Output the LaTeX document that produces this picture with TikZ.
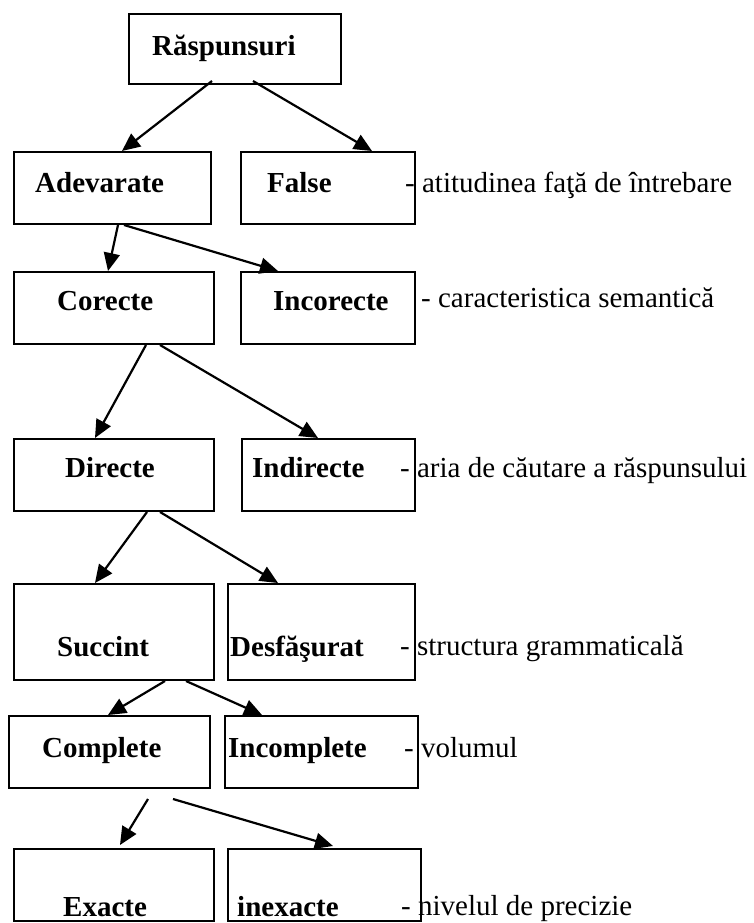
\documentclass[tikz,border=0pt]{standalone}
\usepackage{fontspec}
\setmainfont{Liberation Serif}
\usetikzlibrary{arrows.meta}

\begin{document}
\begin{tikzpicture}[
      x=1pt, y=-1pt,
      box/.style={draw=black, line width=2pt, anchor=north west, inner sep=0pt},
      title/.style={font=\fontsize{29}{34}\selectfont\bfseries, anchor=base west, inner sep=0pt},
      note/.style={font=\fontsize{29}{34}\selectfont, anchor=base west, inner sep=0pt},
      link/.style={-{Triangle[length=18pt, width=16pt]}, line width=2.2pt},
    ]
    \useasboundingbox (0,0) rectangle (753,923);

    % Root
    \node[box, minimum width=212pt, minimum height=70pt] (rasp) at (128,13) {};
    \node[title] (tRasp) at (152,56) {Răspunsuri};

    % Level 1
    \node[box, minimum width=197pt, minimum height=72pt] (adev) at (13,151) {};
    \node[title] (tAdev) at (35,192) {Adevarate};
    \node[box, minimum width=174pt, minimum height=72pt] (fals) at (240,151) {};
    \node[title] (tFals) at (267,192) {False};
    \node[note] (nFals) at (405,192) {- atitudinea faţă de întrebare};

    % Level 2
    \node[box, minimum width=200pt, minimum height=72pt] (corect) at (13,271) {};
    \node[title] (tCorect) at (57,310) {Corecte};
    \node[box, minimum width=174pt, minimum height=72pt] (incorect) at (240,271) {};
    \node[title] (tIncorect) at (273,310) {Incorecte};
    \node[note] (nIncorect) at (421,307) {- caracteristica semantică};

    % Level 3
    \node[box, minimum width=200pt, minimum height=72pt] (direct) at (13,438) {};
    \node[title] (tDirect) at (65,477) {Directe};
    \node[box, minimum width=173pt, minimum height=72pt] (indirect) at (241,438) {};
    \node[title] (tIndirect) at (252,477) {Indirecte};
    \node[note] (nIndirect) at (400,477) {- aria de căutare a răspunsului};

    % Level 4
    \node[box, minimum width=200pt, minimum height=96pt] (succint) at (13,583) {};
    \node[title] (tSuccint) at (57,656) {Succint};
    \node[box, minimum width=187pt, minimum height=96pt] (desfas) at (227,583) {};
    \node[title] (tDesfas) at (230,656) {Desfăşurat};
    \node[note] (nDesfas) at (400,655) {- structura grammaticală};

    % Level 5
    \node[box, minimum width=201pt, minimum height=72pt] (complet) at (8,715) {};
    \node[title] (tComplet) at (42,757) {Complete};
    \node[box, minimum width=193pt, minimum height=72pt] (incomplet) at (224,715) {};
    \node[title] (tIncomplet) at (228,757) {Incomplete};
    \node[note] (nIncomplet) at (404,757) {- volumul};

    % Level 6 (text sits on the bottom edge)
    \node[box, minimum width=200pt, minimum height=72pt] (exact) at (13,848) {};
    \node[title, text depth=0pt] (tExact) at (63,916) {Exacte};
    \node[box, minimum width=193pt, minimum height=72pt] (inexact) at (227,848) {};
    \node[title, text depth=0pt] (tInexact) at (237,916) {inexacte};
    \node[note, text depth=0pt] (nInexact) at (401,915) {- nivelul de precizie};

    % Connections
    \draw[link] ([shift={(84,-4)}]rasp.south west) -- ([shift={(109,0)}]adev.north west);
    \draw[link] ([shift={(125,-4)}]rasp.south west) -- ([shift={(132,0)}]fals.north west);
    \draw[link] ([shift={(105,0)}]adev.south west) -- ([shift={(95,0)}]corect.north west);
    \draw[link] ([shift={(111,0)}]adev.south west) -- ([shift={(38,0)}]incorect.north west);
    \draw[link] ([shift={(133,0)}]corect.south west) -- ([shift={(82,0)}]direct.north west);
    \draw[link] ([shift={(147,0)}]corect.south west) -- ([shift={(77,0)}]indirect.north west);
    \draw[link] ([shift={(134,0)}]direct.south west) -- ([shift={(82,0)}]succint.north west);
    \draw[link] ([shift={(147,0)}]direct.south west) -- ([shift={(51,0)}]desfas.north west);
    \draw[link] ([shift={(152,0)}]succint.south west) -- ([shift={(100,0)}]complet.north west);
    \draw[link] ([shift={(173,0)}]succint.south west) -- ([shift={(38,0)}]incomplet.north west);
    \draw[link] ([shift={(140,10)}]complet.south west) -- ([shift={(107,-3)}]exact.north west);
    \draw[link] ([shift={(165,10)}]complet.south west) -- ([shift={(106,-2)}]inexact.north west);
  \end{tikzpicture}
\end{document}
